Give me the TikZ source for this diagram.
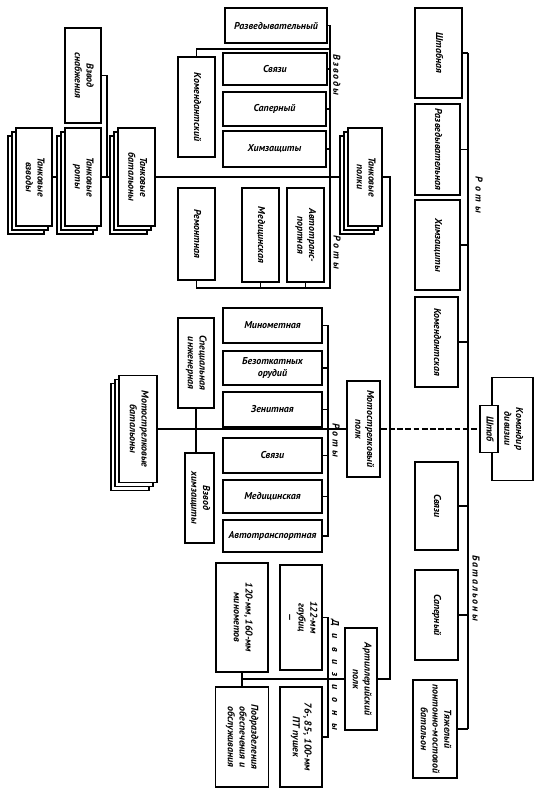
\documentclass[tikz,border=0pt]{standalone}
\usepackage{fontspec}
\setmainfont{PT Sans}
\usepackage{graphicx}
\usetikzlibrary{shadows,backgrounds}
\newcommand\rtxt[1]{\rotatebox{-90}{\begin{tabular}{@{}c@{}}#1\end{tabular}}}
\newcommand\htxt[1]{\begin{tabular}{@{}c@{}}#1\end{tabular}}
\newcommand\spaced[2]{\rotatebox{-90}{\addfontfeatures{LetterSpace=#1}#2}}
\tikzset{
  bx/.style={draw, line width=1.3pt, fill=white, inner sep=0pt, font=\fontsize{8.5}{10}\selectfont\bfseries\itshape},
  sz/.style 2 args={minimum width=#1*0.03cm, minimum height=#2*0.03cm},
  stk/.style={copy shadow={draw, fill=white, line width=1.3pt, shadow xshift=-0.24cm, shadow yshift=-0.24cm},
              copy shadow={draw, fill=white, line width=1.3pt, shadow xshift=-0.12cm, shadow yshift=-0.12cm}},
  ln/.style={line width=1.3pt},
  dl/.style={line width=1pt, dash pattern=on 5pt off 2pt},
  lbl/.style={inner sep=0pt, font=\fontsize{8.5}{10}\selectfont\bfseries\itshape},
}
\begin{document}
\begin{tikzpicture}[x=0.03cm, y=-0.03cm]
\useasboundingbox (0,0) rectangle (554,800);
% right column: companies
\node[bx, sz={47}{90}] (shtabn) at (438.5,53) {\rtxt{Штабная}};
\node[bx, sz={45}{91}] (razvr) at (437.5,149.5) {\rtxt{Разведывательная}};
\node[bx, sz={45}{90}] (khimr) at (437.5,245) {\rtxt{Химзащиты}};
\node[bx, sz={43}{90}] (komr) at (436.5,342) {\rtxt{Комендантская}};
% right column: battalions
\node[bx, sz={43}{88}] (svyazb) at (436.5,506) {\rtxt{Связи}};
\node[bx, sz={43}{90}] (saperb) at (436.5,615) {\rtxt{Саперный}};
\node[bx, sz={44}{98}] (tyazh) at (435,729) {\rtxt{Тяжелый\\понтонно-мостовой\\батальон}};
% command
\node[bx, sz={41}{103}] (komdiv) at (512.5,429) {\rtxt{Командир\\дивизии}};
\node[bx, sz={18}{47}] (shtab) at (489,429) {\rtxt{Штаб}};
% regiments
\node[bx, stk, sz={34}{98}] (tpolki) at (365,177) {\rtxt{Танковые\\полки}};
\node[bx, sz={33}{96}] (mspolk) at (363.5,429) {\rtxt{Мотострелковый\\полк}};
\node[bx, sz={32}{102}] (artpolk) at (361,679) {\rtxt{Артиллерийский\\полк}};
% tank regiment platoons
\node[bx, sz={102}{35}] (razvv) at (276,25.5) {Разведывательный};
\node[bx, sz={104}{32}] (svyazv) at (275,69) {Связи};
\node[bx, sz={103}{34}] (saperv) at (274.5,109) {Саперный};
\node[bx, sz={103}{36}] (khimv) at (274.5,149) {Химзащиты};
\node[bx, sz={37}{100}] (komv) at (196.5,107) {\rtxt{Комендантский}};
% tank regiment companies
\node[bx, sz={37}{92}] (remont) at (196.5,234) {\rtxt{Ремонтная}};
\node[bx, sz={37}{94}] (medu) at (260.5,235) {\rtxt{Медицинская}};
\node[bx, sz={37}{94}] (avtou) at (305.5,235) {\rtxt{Автотранс-\\портная}};
% tank units
\node[bx, stk, sz={37}{98}] (tbat) at (136.5,177) {\rtxt{Танковые\\батальоны}};
\node[bx, stk, sz={36}{98}] (trota) at (83,177) {\rtxt{Танковые\\роты}};
\node[bx, stk, sz={36}{98}] (tvzv) at (34,177) {\rtxt{Танковые\\взводы}};
\node[bx, sz={36}{95}] (snab) at (83,75.5) {\rtxt{Взвод\\снабжения}};
% motor rifle regiment
\node[bx, stk, sz={38}{107}] (msbat) at (138,429) {\rtxt{Мотострелковые\\батальоны}};
\node[bx, sz={36}{90}] (spec) at (196,363) {\rtxt{Специальная\\инженерная}};
\node[bx, sz={29}{90}] (khimm) at (199.5,498) {\rtxt{Взвод\\химзащиты}};
\node[bx, sz={99}{35}] (minom) at (272.5,325.5) {Минометная};
\node[bx, sz={99}{34}] (bezotk) at (272.5,368) {\htxt{Безоткатных\\орудий}};
\node[bx, sz={99}{35}] (zenit) at (272.5,409.5) {Зенитная};
\node[bx, sz={99}{35}] (svyazm) at (272.5,455.5) {Связи};
\node[bx, sz={99}{33}] (medm) at (272.5,496.5) {Медицинская};
\node[bx, sz={99}{32}] (avtom) at (272.5,536) {Автотранспортная};
% artillery regiment
\node[bx, sz={52}{109}] (min120) at (242,617.5) {\rtxt{120-мм, 160-мм\\минометов}};
\node[bx, sz={42}{105}] (gaub) at (301,617.5) {\rtxt{122-мм\\гаубиц\\—}};
\node[bx, sz={53}{100}] (podr) at (242,737) {\rtxt{Подразделения\\обеспечения и\\обслуживания}};
\node[bx, sz={42}{100}] (pt76) at (301,737) {\rtxt{76-, 85-, 100-мм\\ПТ пушек}};
% labels
\node[lbl] (lR1) at (479,195) {\spaced{40}{Роты}};
\node[lbl] (lB) at (476,588) {\spaced{20}{Батальоны}};
\node[lbl] (lV) at (337,75) {\spaced{20}{Взводы}};
\node[lbl] (lR2) at (337,252) {\spaced{30}{Роты}};
\node[lbl] (lR3) at (336,440) {\spaced{30}{Роты}};
\node[lbl] (lD) at (335,675) {\spaced{80}{Дивизионы}};
% spine coordinates
\coordinate (sR) at (468,0);
\coordinate (sM) at (390,0);
\coordinate (sS) at (107,0);
\coordinate (sV) at (330,0);
\coordinate (rb) at (330,288);
\coordinate (kv) at (330,49);
\coordinate (sMR) at (328,0);
\begin{scope}[on background layer]
\fill[white] (0,0) rectangle (554,800);
% division-level spine
\draw[ln] (shtabn.east -| sR) -- (tyazh.east -| sR);
\foreach \n in {shtabn,razvr,khimr,komr,svyazb,saperb,tyazh}
  \draw[ln] (\n.east) -- (\n.east -| sR);
\draw[dl] (mspolk.east) -- (shtab.west);
% regiments spine
\draw[ln] (tpolki.east) -- (tpolki.east -| sM) -- (artpolk.east -| sM) -- (artpolk.east);
% tank chain
\draw[ln] (tvzv.east) -- (trota.west);
\draw[ln] (trota.east) -- (tbat.west);
\draw[ln] (tbat.east) -- (tpolki.west);
\draw[ln] (snab.east) -- (snab.east -| sS) -- (sS |- trota.east);
% tank regiment platoons and companies
\draw[ln] (razvv.east) -| (rb) -| (remont.south);
\foreach \n in {svyazv,saperv,khimv}
  \draw[ln] (\n.east) -- (\n.east -| sV);
\draw[ln] (komv.north) |- (kv);
\draw[ln] (medu.south) -- (medu.south |- rb);
\draw[ln] (avtou.south) -- (avtou.south |- rb);
% motor rifle regiment
\draw[ln] (msbat.east) -- (mspolk.west);
\draw[ln] (spec.south) -- (spec.south |- khimm.north);
\draw[ln] (minom.east) -- (minom.east -| sMR) -- (avtom.east -| sMR) -- (avtom.east);
\foreach \n in {bezotk,zenit,svyazm,medm}
  \draw[ln] (\n.east) -- (\n.east -| sMR);
% artillery regiment
\draw[ln] (gaub.east) -- (gaub.east -| sMR) -- (pt76.east -| sMR) -- (pt76.east);
\draw[ln] (min120.south) -- (podr.north);
\draw[ln] (min120.south |- artpolk.west) -- (artpolk.west);
\end{scope}
\end{tikzpicture}
\end{document}
